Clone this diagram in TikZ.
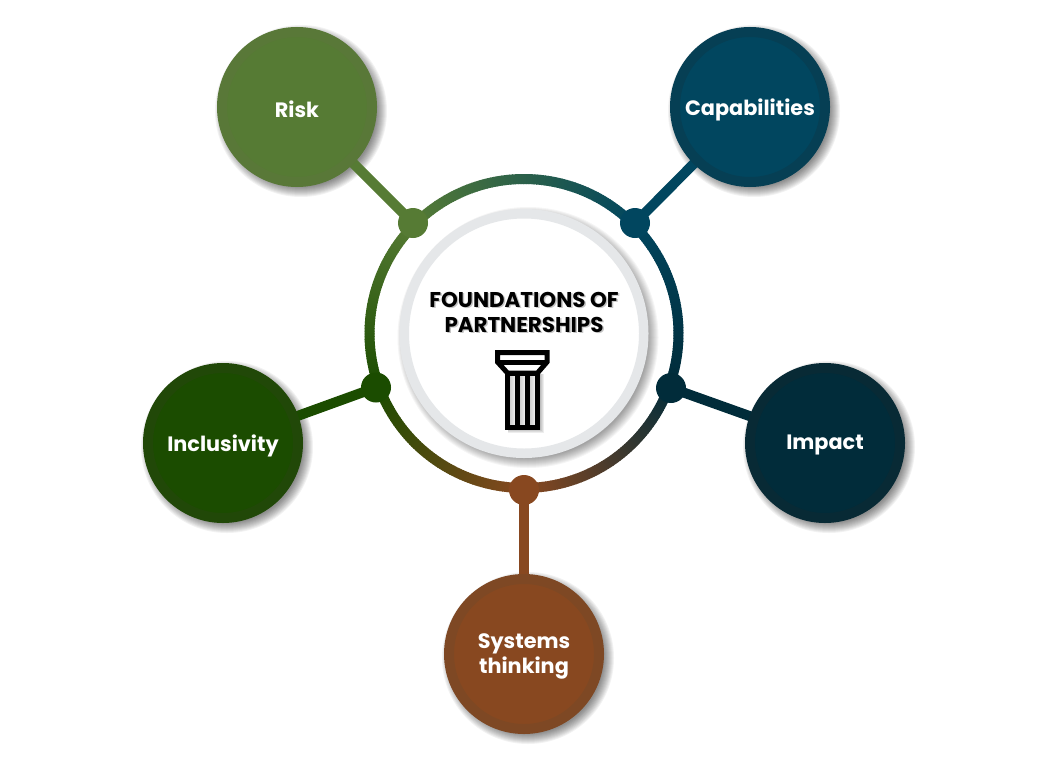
\documentclass[tikz,border=0pt]{standalone}
\usepackage{fontspec}
\setmainfont{Poppins}
\usepackage{xcolor}

\definecolor{riskcol}{HTML}{567B34}
\definecolor{riskrim}{HTML}{597838}
\definecolor{capcol}{HTML}{01465F}
\definecolor{caprim}{HTML}{063F54}
\definecolor{inclcol}{HTML}{1B4C00}
\definecolor{inclrim}{HTML}{214808}
\definecolor{impactcol}{HTML}{012C3A}
\definecolor{impactrim}{HTML}{082A35}
\definecolor{syscol}{HTML}{884820}
\definecolor{sysrim}{HTML}{7E4824}
\definecolor{hubrim}{HTML}{E5E7E9}

\pgfdeclarelayer{shadow}
\pgfdeclarelayer{links}
\pgfsetlayers{shadow,links,main}

\tikzset{
    topic/.style 2 args={circle, draw=#2, fill=#1, line width=10, minimum size=150, inner sep=0},
    topiclabel/.style={text=white, align=center, font=\bfseries\fontsize{20.8}{25}\selectfont},
    joint/.style={circle, fill=#1, minimum size=30, inner sep=0},
    hub/.style={circle, draw=hubrim, fill=white, line width=9.5, minimum size=239.5, inner sep=0},
    link/.style={line width=10, draw=#1},
    title/.style={align=center, font=\bfseries\fontsize{21.4}{25}\selectfont},
    pillar/.style={line width=5, draw=black, line join=miter}
}

\usetikzlibrary{calc}

% soft shadow below a round node, offset to the lower right
\newcommand{\softshadow}[3]{
    \foreach \g in {6,5,...,-4}
        \fill[black, opacity=#3] ($(#1.center)+(4,-4)$) circle ({#2+\g});
}

% ring segment fading from one colour to the next
\newcommand{\ringpart}[4]{
    \foreach \a in {#1,...,#2} {
        \pgfmathsetmacro{\mixval}{100*(\a-#1)/(#2-#1)}
        \draw[line width=10, draw=#4!\mixval!#3] (hub.center) ++(\a:154.5)
            arc[start angle=\a, end angle=\a+1.3, radius=154.5];
    }
}

\begin{document}
\begin{tikzpicture}[x=1pt, y=1pt]
    \useasboundingbox (0,0) rectangle (1046,-779);

    % Centre
    \node[hub] (hub) at (524,-333.5) {};
    \node[title, text=black!50, opacity=0.45] (titleshade) at (525.5,-313.5) {FOUNDATIONS OF\\PARTNERSHIPS};
    \node[title] (titletext) at (524,-312) {FOUNDATIONS OF\\PARTNERSHIPS};

    % Outer circles
    \node[topic={riskcol}{riskrim}] (risk) at (297,-107) {};
    \node[topic={capcol}{caprim}] (capabilities) at (750,-107) {};
    \node[topic={inclcol}{inclrim}] (inclusivity) at (223,-443) {};
    \node[topic={impactcol}{impactrim}] (impact) at (825,-443) {};
    \node[topic={syscol}{sysrim}] (systems) at (524,-654) {};

    % Labels sit slightly below the centres
    \node[topiclabel] (risklabel) at (297,-109) {Risk};
    \node[topiclabel] (caplabel) at (750,-109.5) {Capabilities};
    \node[topiclabel] (incllabel) at (223,-445.5) {Inclusivity};
    \node[topiclabel] (impactlabel) at (825,-445) {Impact};
    \node[topiclabel] (syslabel) at (524,-656.5) {Systems\\thinking};

    % Joints on the ring
    \node[joint=riskcol] (riskjoint) at (413,-223) {};
    \node[joint=capcol] (capjoint) at (635,-223) {};
    \node[joint=inclcol] (incljoint) at (376,-387.5) {};
    \node[joint=impactcol] (impactjoint) at (671,-388) {};
    \node[joint=syscol] (sysjoint) at (524,-490) {};

    % Shadows
    \begin{pgfonlayer}{shadow}
        \softshadow{risk}{80}{0.05}
        \softshadow{capabilities}{80}{0.05}
        \softshadow{inclusivity}{80}{0.05}
        \softshadow{impact}{80}{0.05}
        \softshadow{systems}{80}{0.05}
        \softshadow{hub}{124.5}{0.04}
    \end{pgfonlayer}

    % Connectors and ring
    \begin{pgfonlayer}{links}
        \ringpart{45}{135}{capcol}{riskcol}
        \ringpart{135}{200}{riskcol}{inclcol}
        \ringpart{200}{270}{inclcol}{syscol}
        \ringpart{270}{340}{syscol}{impactcol}
        \ringpart{340}{405}{impactcol}{capcol}
        \draw[link=riskcol] (risk.center) -- (riskjoint.center);
        \draw[link=capcol] (capabilities.center) -- (capjoint.center);
        \draw[link=inclcol] (inclusivity.center) -- (incljoint.center);
        \draw[link=impactcol] (impact.center) -- (impactjoint.center);
        \draw[link=syscol] (systems.center) -- (sysjoint.center);
    \end{pgfonlayer}

    % Column
    \foreach \g in {0,1,2,3}
        \fill[black, opacity=0.07] (508,-374) rectangle ({541+\g},{-430-\g});
    \draw[pillar, fill=white] (497.5,-352.5) -- (547,-352.5) -- (547,-362) -- (537.5,-373) -- (507.5,-373) -- (497.5,-362) -- cycle;
    \draw[pillar] (497.5,-362) -- (547,-362);
    \draw[pillar, left color=black!25, right color=white] (507.5,-373) rectangle (517.5,-427.5);
    \draw[pillar, left color=black!25, right color=white] (517.5,-373) rectangle (527.5,-427.5);
    \draw[pillar, left color=black!25, right color=white] (527.5,-373) rectangle (537.5,-427.5);
\end{tikzpicture}
\end{document}
